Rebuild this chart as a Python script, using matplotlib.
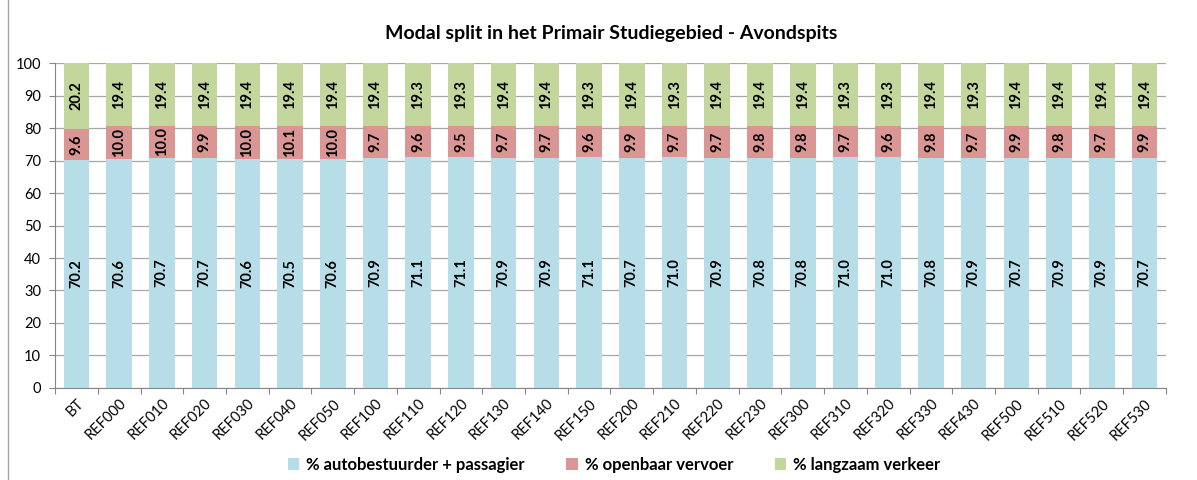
import matplotlib
matplotlib.use("Agg")
import matplotlib.pyplot as plt
from matplotlib.patches import Rectangle
import numpy as np

categories = ["BT", "REF000", "REF010", "REF020", "REF030", "REF040", "REF050", "REF100",
              "REF110", "REF120", "REF130", "REF140", "REF150", "REF200", "REF210", "REF220",
              "REF230", "REF300", "REF310", "REF320", "REF330", "REF430", "REF500", "REF510",
              "REF520", "REF530"]
auto = [70.2, 70.6, 70.7, 70.7, 70.6, 70.5, 70.6, 70.9, 71.1, 71.1, 70.9, 70.9, 71.1, 70.7,
        71.0, 70.9, 70.8, 70.8, 71.0, 71.0, 70.8, 70.9, 70.7, 70.9, 70.9, 70.7]
ov = [9.6, 10.0, 10.0, 9.9, 10.0, 10.1, 10.0, 9.7, 9.6, 9.5, 9.7, 9.7, 9.6, 9.9, 9.7, 9.7,
      9.8, 9.8, 9.7, 9.6, 9.8, 9.7, 9.9, 9.8, 9.7, 9.9]
lv = [20.2, 19.4, 19.4, 19.4, 19.4, 19.4, 19.4, 19.4, 19.3, 19.3, 19.4, 19.4, 19.3, 19.4,
      19.3, 19.4, 19.4, 19.4, 19.3, 19.3, 19.4, 19.3, 19.4, 19.4, 19.4, 19.4]
series_names = ["% autobestuurder + passagier", "% openbaar vervoer", "% langzaam verkeer"]
colors = ["#B7DEE8", "#DA9694", "#C3D69B"]
title = "Modal split in het Primair Studiegebied - Avondspits"

plt.rcParams['font.family'] = ['Lato', 'DejaVu Sans']

fig = plt.figure(figsize=(11.97, 4.8), dpi=100)
ax = fig.add_axes([0.046, 0.1917, 0.928, 0.677])

x = np.arange(len(categories))
w = 0.6
bottoms = np.zeros(len(categories))
for vals, col, name in zip([auto, ov, lv], colors, series_names):
    vals = np.array(vals)
    ax.bar(x, vals, w, bottom=bottoms, color=col, label=name, zorder=2)
    for xi, b, v in zip(x, bottoms, vals):
        ax.text(xi, b + v / 2, f"{v:.1f}", rotation=90, ha='center', va='center',
                fontsize=10.5, fontweight='bold', zorder=3)
    bottoms = bottoms + vals

ax.set_xlim(-0.5, len(categories) - 0.5)
ax.set_ylim(0, 100)
ax.set_yticks(np.arange(0, 101, 10))
ax.yaxis.grid(True, color='#A6A6A6', linewidth=0.9, zorder=0)
ax.set_axisbelow(True)
ax.set_xticks(np.arange(-0.5, len(categories), 1), minor=False)
ax.set_xticklabels([])
ax.tick_params(axis='x', length=4, color='#868686')
ax.set_xticks(x, minor=True)
ax.set_xticklabels(categories, minor=True, rotation=45, ha='right', rotation_mode='anchor',
                   fontsize=10.5)
ax.tick_params(axis='x', which='minor', length=0, pad=6)
ax.tick_params(axis='y', length=4, color='#868686', labelsize=10.5, pad=6)
for s in ['top', 'right']:
    ax.spines[s].set_visible(False)
for s in ['left', 'bottom']:
    ax.spines[s].set_color('#868686')

fig.text(0.511, 0.931, title, ha='center', va='center', fontsize=14, fontweight='bold')

fig.legend(loc='center', bbox_to_anchor=(0.513, 0.031), ncol=3, frameon=False,
           prop={'size': 12, 'weight': 'bold'}, handlelength=0.7, handleheight=0.7,
           columnspacing=2.5, handletextpad=0.4)

fig.patches.append(Rectangle((0.007, -0.01), 1.0, 1.02, transform=fig.transFigure,
                             fill=False, edgecolor='#A6A6A6', linewidth=1))

fig.savefig("out.png", dpi=100)
